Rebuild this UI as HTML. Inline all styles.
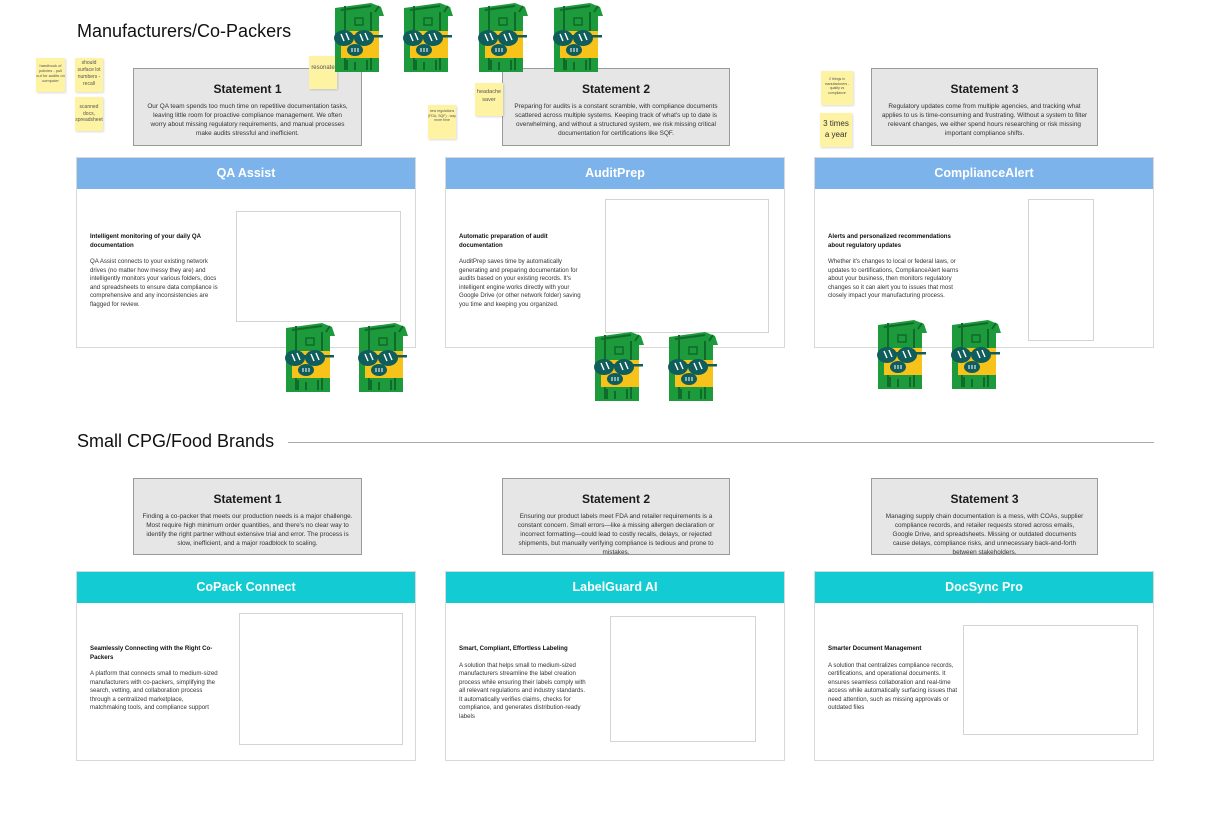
<!DOCTYPE html>
<html><head><meta charset="utf-8"><style>
*{margin:0;padding:0;box-sizing:border-box}
body{width:1221px;height:818px;background:#fff;position:relative;overflow:hidden;font-family:"Liberation Sans","DejaVu Sans",sans-serif;color:#222}
.a{position:absolute}
.h{font-size:18px;color:#111}
.st{position:absolute;background:#e6e6e6;border:1.5px solid #9a9a9a;text-align:center}
.st b{display:block;font-size:12px;margin-top:13px;color:#1a1a1a}
.st p{font-size:6.4px;line-height:9px;margin-top:6px;color:#333}
.cd{position:absolute;border:1.5px solid #d8d8d8;background:#fff}
.hd{height:31px;color:#fff;font-weight:bold;font-size:12.5px;text-align:center;line-height:31px}
.blue{background:#7cb3ea}.teal{background:#13cbd3}
.tx{position:absolute;left:13px;font-size:6.1px;line-height:8.5px;color:#333}
.tx b{display:block;color:#111;margin-bottom:8px}
.im{position:absolute;border:1.5px solid #d4d4d4;background:#fff}
.sn{position:absolute;background:#fdf3a3;box-shadow:1px 1px 2px rgba(0,0,0,.15);text-align:center;font-size:4px;line-height:5px;color:#555;padding-top:5px}
.m{position:absolute;width:54px;height:72px}
</style></head><body>
<svg width="0" height="0" style="position:absolute"><defs>
<g id="mon">
<path d="M4 6 L40 1 L50 5 L53 14 L48 14 L48 70 L4 70 Z" fill="#1d9a3b"/>
<path d="M10 8 L40 4 M14 4 L14 68 M40 10 L40 68 M44 10 L48 4" stroke="#0f6b2a" stroke-width="2" fill="none"/>
<rect x="24" y="16" width="8" height="7" fill="none" stroke="#0f6b2a" stroke-width="1.5"/>
<rect x="10" y="29" width="38" height="27" fill="#f7c21a"/>
<ellipse cx="13" cy="36" rx="10" ry="8" fill="#105e5b"/>
<ellipse cx="33" cy="36" rx="10" ry="8" fill="#105e5b"/>
<rect x="14" y="33" width="22" height="3" fill="#105e5b"/>
<rect x="40" y="33" width="12" height="2.5" fill="#105e5b"/>
<path d="M10 32l3 7M15 31l3 7M29 32l3 7M34 31l3 7" stroke="#fff" stroke-width="1.4"/>
<ellipse cx="24" cy="48" rx="8" ry="6" fill="#105e5b"/>
<path d="M21 46v4M24 46v4M27 46v4" stroke="#fff" stroke-width="1"/>
<path d="M16 58v10M24 60v8M36 58v10" stroke="#0f6b2a" stroke-width="2"/>
</g></defs></svg>

<div class="a h" style="left:77px;top:21px">Manufacturers/Co-Packers</div>
<div class="a h" style="left:77px;top:431px">Small CPG/Food Brands</div>
<div class="a" style="left:288px;top:442px;width:866px;height:1px;background:#aaa"></div>

<div class="st" style="left:133px;top:68px;width:229px;height:78px"><b>Statement 1</b><p>Our QA team spends too much time on repetitive documentation tasks,<br>leaving little room for proactive compliance management. We often<br>worry about missing regulatory requirements, and manual processes<br>make audits stressful and inefficient.</p></div>
<div class="st" style="left:502px;top:68px;width:228px;height:78px"><b>Statement 2</b><p>Preparing for audits is a constant scramble, with compliance documents<br>scattered across multiple systems. Keeping track of what's up to date is<br>overwhelming, and without a structured system, we risk missing critical<br>documentation for certifications like SQF.</p></div>
<div class="st" style="left:871px;top:68px;width:227px;height:78px"><b>Statement 3</b><p>Regulatory updates come from multiple agencies, and tracking what<br>applies to us is time-consuming and frustrating. Without a system to filter<br>relevant changes, we either spend hours researching or risk missing<br>important compliance shifts.</p></div>

<div class="cd" style="left:76px;top:157px;width:340px;height:191px"><div class="hd blue">QA Assist</div>
<div class="tx" style="top:75px"><b>Intelligent monitoring of your daily QA<br>documentation</b>QA Assist connects to your existing network<br>drives (no matter how messy they are) and<br>intelligently monitors your various folders, docs<br>and spreadsheets to ensure data compliance is<br>comprehensive and any inconsistencies are<br>flagged for review.</div>
<div class="im" style="left:159px;top:53px;width:165px;height:111px"></div></div>
<div class="cd" style="left:445px;top:157px;width:340px;height:191px"><div class="hd blue">AuditPrep</div>
<div class="tx" style="top:75px"><b>Automatic preparation of audit<br>documentation</b>AuditPrep saves time by automatically<br>generating and preparing documentation for<br>audits based on your existing records. It's<br>intelligent engine works directly with your<br>Google Drive (or other network folder) saving<br>you time and keeping you organized.</div>
<div class="im" style="left:159px;top:41px;width:164px;height:134px"></div></div>
<div class="cd" style="left:814px;top:157px;width:340px;height:191px"><div class="hd blue">ComplianceAlert</div>
<div class="tx" style="top:75px"><b>Alerts and personalized recommendations<br>about regulatory updates</b>Whether it's changes to local or federal laws, or<br>updates to certifications, ComplianceAlert learns<br>about your business, then monitors regulatory<br>changes so it can alert you to issues that most<br>closely impact your manufacturing process.</div>
<div class="im" style="left:213px;top:41px;width:66px;height:142px"></div></div>

<div class="st" style="left:133px;top:478px;width:229px;height:77px"><b>Statement 1</b><p>Finding a co-packer that meets our production needs is a major challenge.<br>Most require high minimum order quantities, and there's no clear way to<br>identify the right partner without extensive trial and error. The process is<br>slow, inefficient, and a major roadblock to scaling.</p></div>
<div class="st" style="left:502px;top:478px;width:228px;height:77px"><b>Statement 2</b><p>Ensuring our product labels meet FDA and retailer requirements is a<br>constant concern. Small errors—like a missing allergen declaration or<br>incorrect formatting—could lead to costly recalls, delays, or rejected<br>shipments, but manually verifying compliance is tedious and prone to<br>mistakes.</p></div>
<div class="st" style="left:871px;top:478px;width:227px;height:77px"><b>Statement 3</b><p>Managing supply chain documentation is a mess, with COAs, supplier<br>compliance records, and retailer requests stored across emails,<br>Google Drive, and spreadsheets. Missing or outdated documents<br>cause delays, compliance risks, and unnecessary back-and-forth<br>between stakeholders.</p></div>

<div class="cd" style="left:76px;top:571px;width:340px;height:190px"><div class="hd teal">CoPack Connect</div>
<div class="tx" style="top:73px"><b>Seamlessly Connecting with the Right Co-<br>Packers</b>A platform that connects small to medium-sized<br>manufacturers with co-packers, simplifying the<br>search, vetting, and collaboration process<br>through a centralized marketplace,<br>matchmaking tools, and compliance support</div>
<div class="im" style="left:162px;top:41px;width:164px;height:132px"></div></div>
<div class="cd" style="left:445px;top:571px;width:340px;height:190px"><div class="hd teal">LabelGuard AI</div>
<div class="tx" style="top:73px"><b>Smart, Compliant, Effortless Labeling</b>A solution that helps small to medium-sized<br>manufacturers streamline the label creation<br>process while ensuring their labels comply with<br>all relevant regulations and industry standards.<br>It automatically verifies claims, checks for<br>compliance, and generates distribution-ready<br>labels</div>
<div class="im" style="left:164px;top:44px;width:146px;height:126px"></div></div>
<div class="cd" style="left:814px;top:571px;width:340px;height:190px"><div class="hd teal">DocSync Pro</div>
<div class="tx" style="top:73px"><b>Smarter Document Management</b>A solution that centralizes compliance records,<br>certifications, and operational documents. It<br>ensures seamless collaboration and real-time<br>access while automatically surfacing issues that<br>need attention, such as missing approvals or<br>outdated files</div>
<div class="im" style="left:148px;top:53px;width:175px;height:110px"></div></div>

<div class="sn" style="left:36px;top:58px;width:29px;height:34px">handbook of policies - pull out for audits on computer</div>
<div class="sn" style="left:75px;top:58px;width:28px;height:34px;font-size:5px;line-height:7px;padding-top:2px">should surface lot numbers - recall</div>
<div class="sn" style="left:75px;top:97px;width:28px;height:34px;font-size:5px;line-height:6.5px;padding-top:7px">scanned docs, spreadsheet</div>
<div class="sn" style="left:309px;top:56px;width:28px;height:33px;font-size:6px;padding-top:10px">resonate</div>
<div class="sn" style="left:475px;top:83px;width:28px;height:33px;font-size:5.5px;line-height:8px;padding-top:5px">headache saver</div>
<div class="sn" style="left:428px;top:105px;width:28px;height:34px;font-size:3.5px;line-height:4.5px;padding-top:4px">new regulations (FDA, SQF) - way more time</div>
<div class="sn" style="left:821px;top:71px;width:32px;height:34px;font-size:3.5px;line-height:4.5px;padding-top:6px">2 things in manufacturers - quality vs compliance</div>
<div class="sn" style="left:820px;top:113px;width:32px;height:34px;font-size:8px;line-height:11px;padding-top:5px;color:#333">3 times a year</div>

<svg class="m" style="left:331px;top:2px" viewBox="0 0 54 72"><use href="#mon"/></svg>
<svg class="m" style="left:400px;top:2px" viewBox="0 0 54 72"><use href="#mon"/></svg>
<svg class="m" style="left:475px;top:2px" viewBox="0 0 54 72"><use href="#mon"/></svg>
<svg class="m" style="left:550px;top:2px" viewBox="0 0 54 72"><use href="#mon"/></svg>
<svg class="m" style="left:282px;top:322px" viewBox="0 0 54 72"><use href="#mon"/></svg>
<svg class="m" style="left:355px;top:322px" viewBox="0 0 54 72"><use href="#mon"/></svg>
<svg class="m" style="left:591px;top:331px" viewBox="0 0 54 72"><use href="#mon"/></svg>
<svg class="m" style="left:665px;top:331px" viewBox="0 0 54 72"><use href="#mon"/></svg>
<svg class="m" style="left:874px;top:319px" viewBox="0 0 54 72"><use href="#mon"/></svg>
<svg class="m" style="left:948px;top:319px" viewBox="0 0 54 72"><use href="#mon"/></svg>
</body></html>
